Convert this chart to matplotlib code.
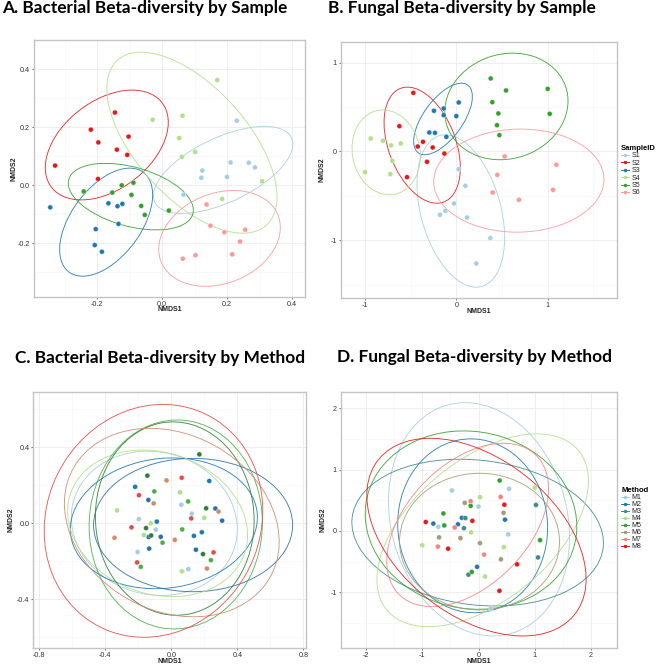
import matplotlib
matplotlib.use("Agg")
import matplotlib.pyplot as plt
from matplotlib.patches import Ellipse
from matplotlib.lines import Line2D
from matplotlib.ticker import MultipleLocator, FormatStrFormatter

plt.rcParams["font.family"] = ["Liberation Sans", "DejaVu Sans"]
plt.rcParams["axes.unicode_minus"] = False

FIG_W, FIG_H = 657, 665

samples = ["S1", "S2", "S3", "S4", "S5", "S6"]
methods = ["M1", "M2", "M3", "M4", "M5", "M6", "M7", "M8"]

# bacterial NMDS scores (panels A and C), 6 samples x 8 methods
bac_sample = [s for s in samples for _ in methods]
bac_method = [m for _ in samples for m in methods]
bac_x = [0.124, 0.230, 0.267, 0.200, 0.066, 0.211, 0.286, 0.121,
         -0.197, -0.219, -0.139, -0.329, -0.103, -0.145, -0.107, -0.196,
         -0.204, -0.137, -0.134, -0.165, -0.185, -0.122, -0.344, -0.207,
         0.061, 0.185, 0.308, 0.053, 0.102, 0.170, -0.029, 0.063,
         -0.094, -0.088, -0.064, -0.124, -0.053, -0.153, 0.021, -0.241,
         0.103, 0.137, 0.149, 0.064, 0.240, 0.192, 0.216, 0.256]
bac_y = [0.051, 0.223, 0.078, 0.029, -0.032, 0.079, 0.062, 0.026,
         0.022, 0.192, 0.123, 0.068, 0.168, 0.251, 0.105, 0.148,
         -0.151, -0.072, -0.133, -0.062, -0.229, -0.064, -0.076, -0.206,
         0.098, -0.047, 0.014, 0.163, 0.115, 0.363, 0.226, 0.240,
         -0.033, 0.009, -0.071, 0.000, -0.102, -0.025, -0.087, -0.021,
         -0.241, -0.066, -0.139, -0.253, -0.194, -0.162, -0.238, -0.153]

# fungal NMDS scores (panels B and D), some sample/method pairs missing
fun_sample = ["S1"] * 8 + ["S2"] * 8 + ["S3"] * 8 + ["S4"] * 7 + ["S5"] * 8 + ["S6"] * 6
fun_method = (methods + methods + methods
              + ["M1", "M2", "M4", "M5", "M6", "M7", "M8"]
              + methods
              + ["M1", "M3", "M4", "M5", "M6", "M8"])
fun_x = [0.219, -0.026, -0.179, 0.117, -0.120, 0.026, 0.099, 0.372,
         -0.471, -0.365, -0.259, -0.131, -0.624, -0.321, -0.423, -0.540,
         0.000, -0.296, -0.234, 0.026, -0.139, -0.245, -0.139, -0.109,
         -0.715, -0.803, -1.000, -0.609, -0.701, -0.723, -0.938,
         0.544, 0.471, 1.022, 1.000, 0.376, 0.445, 0.394, 0.460,
         0.529, 1.058, 0.449, 1.095, 0.398, 0.686]
fun_y = [-1.261, -0.585, -0.713, -0.743, -0.668, -0.199, -0.386, -0.976,
         0.660, 0.109, 0.045, -0.023, 0.285, -0.116, 0.056, -0.289,
         0.398, 0.214, 0.210, 0.552, 0.409, 0.458, 0.484, 0.165,
         0.068, 0.120, -0.233, 0.090, -0.105, -0.255, 0.146,
         0.687, 0.184, 0.424, 0.705, 0.822, 0.296, 0.555, 0.428,
         -0.056, -0.432, -0.263, -0.150, -0.462, -0.544]

# 95% ellipses: centre, semi-axes, rotation (deg)
ell_a_group = ["S1", "S2", "S3", "S4", "S5", "S6"]
ell_a_cx = [0.188, -0.170, -0.172, 0.092, -0.096, 0.177]
ell_a_cy = [0.053, 0.139, -0.127, 0.147, -0.039, -0.183]
ell_a_major = [0.238, 0.225, 0.207, 0.366, 0.200, 0.198]
ell_a_minor = [0.109, 0.145, 0.111, 0.179, 0.101, 0.152]
ell_a_angle = [29.2, 45.0, 58.9, 126.8, -18.4, 30.6]

ell_b_group = ["S1", "S2", "S3", "S4", "S5", "S6"]
ell_b_cx = [0.049, -0.374, -0.146, -0.768, 0.548, 0.684]
ell_b_cy = [-0.670, 0.071, 0.366, -0.010, 0.507, -0.328]
ell_b_major = [0.880, 0.682, 0.468, 0.481, 0.686, 0.932]
ell_b_minor = [0.438, 0.369, 0.216, 0.370, 0.587, 0.580]
ell_b_angle = [104.8, 109.9, 55.0, 100.4, 20.5, 1.3]

ell_c_group = ["M1", "M2", "M3", "M4", "M5", "M6", "M7", "M8"]
ell_c_cx = [-0.103, -0.045, 0.132, -0.083, 0.027, 0.021, 0.003, -0.108]
ell_c_cy = [0.000, 0.000, -0.009, 0.000, -0.006, 0.025, 0.004, 0.013]
ell_c_major = [0.505, 0.568, 0.603, 0.552, 0.551, 0.510, 0.667, 0.674]
ell_c_minor = [0.377, 0.342, 0.351, 0.376, 0.524, 0.480, 0.474, 0.600]
ell_c_angle = [-8.0, 5.0, 0.0, -12.4, 80.0, 100.0, -18.2, 24.2]

ell_d_group = ["M1", "M2", "M3", "M4", "M5", "M6", "M7", "M8"]
ell_d_cx = [0.009, -0.104, -0.015, 0.074, -0.133, 0.018, -0.193, -0.036]
ell_d_cy = [0.190, 0.084, -0.027, 0.011, 0.177, -0.174, 0.098, -0.101]
ell_d_major = [1.949, 1.420, 2.245, 2.147, 1.888, 1.422, 1.668, 2.158]
ell_d_minor = [1.552, 1.330, 1.180, 1.182, 1.445, 1.114, 1.029, 1.319]
ell_d_angle = [111.2, 100.0, -5.9, 35.3, -7.6, 0.0, 40.1, -32.8]

sample_colors = {"S1": "#a6cee3", "S2": "#e31a1c", "S3": "#1f78b4",
                 "S4": "#b2df8a", "S5": "#33a02c", "S6": "#fb9a99"}
method_colors_bac = {"M1": "#a6cee3", "M2": "#1f78b4", "M3": "#2b6ea8", "M4": "#b2df8a",
                     "M5": "#4daf4a", "M6": "#2e7d32", "M7": "#d08a6e", "M8": "#e34a4a"}
method_colors_fun = {"M1": "#a6cee3", "M2": "#1f78b4", "M3": "#3d8b8b", "M4": "#b2df8a",
                     "M5": "#33a02c", "M6": "#a89a76", "M7": "#f08484", "M8": "#e31a1c"}


def px_box(left, top, right, bottom):
    return [left / FIG_W, 1 - bottom / FIG_H, (right - left) / FIG_W, (bottom - top) / FIG_H]


def draw_panel(ax, x, y, groups, colors, ells, xlim, ylim, step, fmt, ylab_x):
    for g, cx, cy, a, b, ang in zip(*ells):
        ax.add_patch(Ellipse((cx, cy), 2 * a, 2 * b, angle=ang, fill=False,
                             ec=colors[g], lw=0.65, alpha=0.9, zorder=2))
    ax.scatter(x, y, c=[colors[g] for g in groups], s=13, lw=0.5,
               edgecolors="#ffffff80", zorder=3)

    ax.set_xlim(*xlim)
    ax.set_ylim(*ylim)
    for axis in (ax.xaxis, ax.yaxis):
        axis.set_major_locator(MultipleLocator(step))
        axis.set_minor_locator(MultipleLocator(step / 2))
        axis.set_major_formatter(FormatStrFormatter(fmt))
    ax.grid(True, which="major", color="#ebebeb", lw=0.6, zorder=0)
    ax.grid(True, which="minor", color="#f5f5f5", lw=0.4, zorder=0)
    ax.set_axisbelow(True)
    ax.tick_params(which="major", length=1.5, width=0.5, color="#333333",
                   labelsize=5.2, labelcolor="#333333", pad=1.2)
    ax.tick_params(which="minor", length=0)
    for sp in ax.spines.values():
        sp.set_color("#c4c4c4")
        sp.set_linewidth(1.0)

    ax.set_xlabel("NMDS1", fontsize=5, fontweight="bold", color="#222222")
    ax.set_ylabel("NMDS2", fontsize=5, fontweight="bold", color="#222222")
    ax.xaxis.set_label_coords(0.5, -0.036)
    ax.yaxis.set_label_coords(ylab_x, 0.5)


fig = plt.figure(figsize=(FIG_W / 100, FIG_H / 100), dpi=100)
fig.patch.set_facecolor("white")

ax_a = fig.add_axes(px_box(34, 40, 305, 297))
ax_b = fig.add_axes(px_box(340.7, 41.7, 617.3, 298.3))
ax_c = fig.add_axes(px_box(33.3, 391.7, 306, 648.3))
ax_d = fig.add_axes(px_box(340.7, 391.7, 616.7, 648.3))

draw_panel(ax_a, bac_x, bac_y, bac_sample, sample_colors,
           (ell_a_group, ell_a_cx, ell_a_cy, ell_a_major, ell_a_minor, ell_a_angle),
           (-0.394, 0.44), (-0.385, 0.501), 0.2, "%.1f", -0.062)
draw_panel(ax_b, fun_x, fun_y, fun_sample, sample_colors,
           (ell_b_group, ell_b_cx, ell_b_cy, ell_b_major, ell_b_minor, ell_b_angle),
           (-1.266, 1.762), (-1.653, 1.236), 1.0, "%d", -0.055)
draw_panel(ax_c, bac_x, bac_y, bac_method, method_colors_bac,
           (ell_c_group, ell_c_cx, ell_c_cy, ell_c_major, ell_c_minor, ell_c_angle),
           (-0.836, 0.816), (-0.658, 0.693), 0.4, "%.1f", -0.070)
draw_panel(ax_d, fun_x, fun_y, fun_method, method_colors_fun,
           (ell_d_group, ell_d_cx, ell_d_cy, ell_d_major, ell_d_minor, ell_d_angle),
           (-2.45, 2.457), (-1.913, 2.27), 1.0, "%d", -0.050)


def add_legend(title, labels, colors, left, top, spacing):
    handles = [Line2D([0], [0], color=colors[l], lw=0.7, marker="o", markersize=2.5,
                      markeredgewidth=0) for l in labels]
    leg = fig.legend(handles, labels, loc="upper left",
                     bbox_to_anchor=(left / FIG_W, 1 - top / FIG_H),
                     title=title, title_fontproperties={"weight": "bold", "size": 5.5},
                     fontsize=5, frameon=False, handlelength=1.1, handletextpad=0.4,
                     labelspacing=spacing, borderpad=0, borderaxespad=0, alignment="left")
    for t in leg.get_texts():
        t.set_color("#222222")


add_legend("SampleID", samples, sample_colors, 621, 145, 0.06)
add_legend("Method", methods, method_colors_fun, 621, 487, 0.0)

# panel titles, sized to the width they take in the original
renderer = fig.canvas.get_renderer()
titles = [("A. Bacterial Beta-diversity by Sample", 1.7, 12.7, 285),
          ("B. Fungal Beta-diversity by Sample", 328.5, 12.7, 268),
          ("C. Bacterial Beta-diversity by Method", 15, 363.3, 290),
          ("D. Fungal Beta-diversity by Method", 337.3, 362.3, 274)]
for text, x0, base, width in titles:
    t = fig.text(x0 / FIG_W, 1 - base / FIG_H, text, fontsize=10, fontweight="bold",
                 family=["Lato", "DejaVu Sans"], va="baseline", ha="left")
    w = t.get_window_extent(renderer).width
    t.set_fontsize(10 * width / w)

fig.savefig("out.png", dpi=100, facecolor="white")
